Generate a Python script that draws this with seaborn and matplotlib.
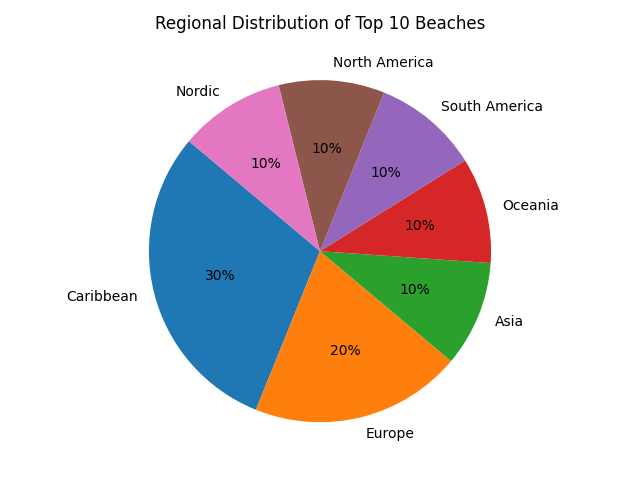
import seaborn as sns
import matplotlib.pyplot as plt

# Region share of top 10 beaches
regions = ['Caribbean', 'Europe', 'Asia', 'Oceania', 'South America', 'North America', 'Nordic']
counts = [3, 2, 1, 1, 1, 1, 1]

colors = sns.color_palette('tab10', len(regions))

plt.figure(figsize=(6.4, 4.8), dpi=100)
plt.pie(counts, labels=regions, colors=colors, autopct='%1.0f%%', startangle=140)
plt.title('Regional Distribution of Top 10 Beaches')
plt.tight_layout()
plt.savefig('out.png')
